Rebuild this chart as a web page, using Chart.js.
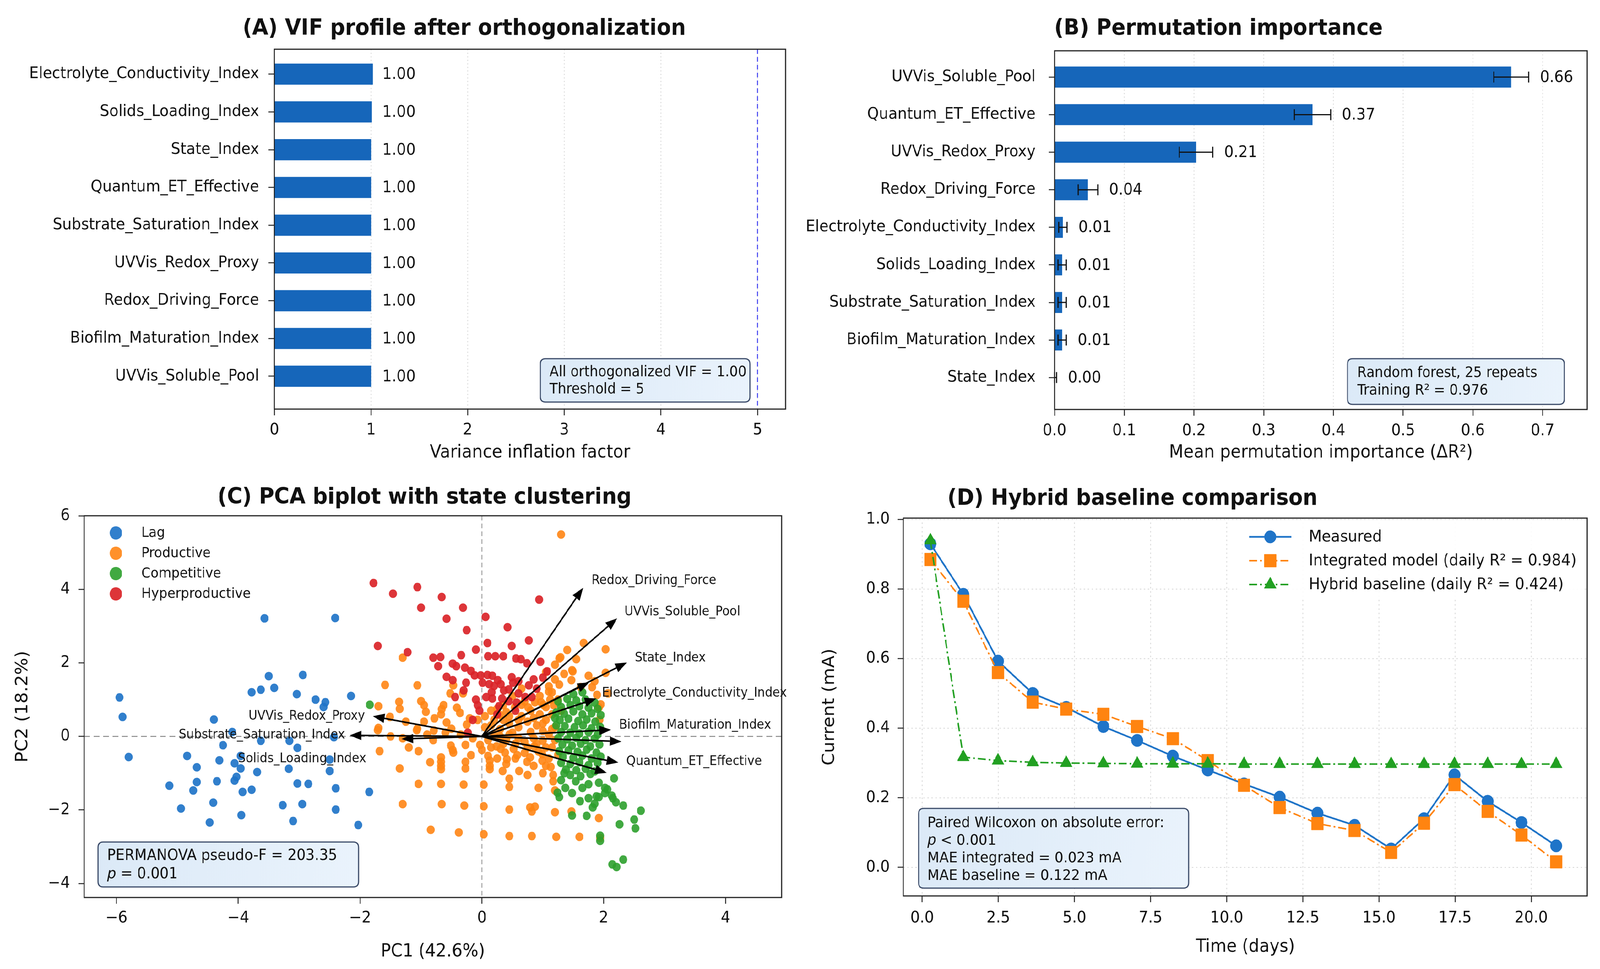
<!DOCTYPE html>
<html>
<head>
<meta charset="utf-8">
<script src="https://cdn.jsdelivr.net/npm/chart.js@4.4.1/dist/chart.umd.min.js"></script>
<style>
html,body{margin:0;padding:0;background:#ffffff;overflow:hidden;}
#stage{position:absolute;left:0;top:0;width:4391px;height:2480px;transform-origin:0 0;background:#ffffff;}
canvas{position:absolute;display:block;}
</style>
</head>
<body>
<div id="stage">
<canvas id="cA" style="left:0px;top:0px;width:2200px;height:1240px" width="2200" height="1240"></canvas>
<canvas id="cB" style="left:2200px;top:0px;width:2191px;height:1240px" width="2191" height="1240"></canvas>
<canvas id="cC" style="left:0px;top:1240px;width:2200px;height:1240px" width="2200" height="1240"></canvas>
<canvas id="cD" style="left:2200px;top:1240px;width:2191px;height:1240px" width="2191" height="1240"></canvas>
</div>
<script>
// ================= DATA =================
// (A) VIF profile
const vifFeatures = ['Electrolyte_Conductivity_Index','Solids_Loading_Index','State_Index','Quantum_ET_Effective','Substrate_Saturation_Index','UVVis_Redox_Proxy','Redox_Driving_Force','Biofilm_Maturation_Index','UVVis_Soluble_Pool'];
const vifValues = [1.02, 1.01, 1.00, 1.00, 1.00, 1.00, 1.00, 1.00, 1.00];
const vifText = ['1.00','1.00','1.00','1.00','1.00','1.00','1.00','1.00','1.00'];
const vifThreshold = 5;
const vifTicks = [0, 1, 2, 3, 4, 5];

// (B) Permutation importance
const permFeatures = ['UVVis_Soluble_Pool','Quantum_ET_Effective','UVVis_Redox_Proxy','Redox_Driving_Force','Electrolyte_Conductivity_Index','Solids_Loading_Index','Substrate_Saturation_Index','Biofilm_Maturation_Index','State_Index'];
const permMean = [0.655, 0.370, 0.203, 0.048, 0.012, 0.011, 0.011, 0.011, 0.001];
const permErr  = [0.025, 0.026, 0.024, 0.014, 0.006, 0.006, 0.006, 0.006, 0.002];
const permText = ['0.66','0.37','0.21','0.04','0.01','0.01','0.01','0.01','0.00'];
const permTicks = [0, 0.1, 0.2, 0.3, 0.4, 0.5, 0.6, 0.7];

// (C) PCA biplot
const stateNames = ['Lag','Productive','Competitive','Hyperproductive'];
const lagPts = [[-3.57,3.21],[-2.41,3.22],[-3.50,1.64],[-2.94,1.67],[-3.63,1.27],[-3.41,1.32],[-3.78,1.20],[-3.04,1.15],[-2.73,1.00],[-2.57,0.93],[-2.60,0.80],[-2.15,1.10],[-5.95,1.06],[-5.90,0.53],[-5.80,-0.56],[-4.40,0.46],[-4.25,-0.24],[-3.63,-0.12],[-3.16,-0.12],[-3.03,-0.31],[-2.43,-0.02],[-4.10,0.12],[-4.84,-0.53],[-4.31,-0.65],[-4.68,-0.84],[-4.06,-0.73],[-3.96,-0.87],[-3.96,-0.53],[-3.69,-0.97],[-3.17,-0.88],[-2.50,-0.94],[-2.50,-0.63],[-5.13,-1.34],[-4.68,-1.24],[-4.74,-1.47],[-4.35,-1.22],[-4.06,-1.20],[-4.03,-1.10],[-3.93,-1.51],[-3.78,-1.45],[-3.03,-1.28],[-2.85,-1.29],[-2.40,-1.41],[-1.85,-1.51],[-4.94,-1.96],[-4.41,-1.80],[-3.27,-1.87],[-2.95,-1.84],[-2.40,-1.99],[-3.95,-2.14],[-4.47,-2.34],[-3.10,-2.30],[-2.03,-2.41]];
const productivePts = [[-1.70,0.23],[-1.06,0.21],[-0.79,0.16],[-1.68,-0.40],[-1.04,-0.40],[-1.35,-0.87],[-0.67,-0.57],[-0.67,-0.69],[-0.67,-0.80],[-0.67,-0.89],[-0.51,-0.25],[-0.48,-0.37],[-0.47,-0.44],[-0.27,-0.23],[-0.27,-0.69],[-0.27,-0.87],[-0.18,-0.51],[-1.04,-1.29],[-0.67,-1.29],[-0.30,-1.31],[0.03,-1.31],[-1.30,-1.84],[-0.66,-1.84],[-0.29,-1.88],[0.03,-1.90],[0.45,-1.99],[0.79,-1.93],[0.87,-1.91],[0.82,-2.04],[1.20,-2.06],[1.47,-2.04],[-0.84,-2.54],[-0.38,-2.61],[0.03,-2.66],[0.45,-2.71],[0.82,-2.71],[1.22,-2.73],[1.60,-2.73],[1.94,-2.76],[1.92,-2.22],[0.10,-0.53],[0.13,-0.66],[0.13,-0.80],[0.13,-0.89],[0.34,-0.94],[0.61,-0.94],[0.41,-0.62],[0.45,-1.15],[0.45,-1.37],[0.75,-1.05],[0.93,-1.40],[0.74,-0.69],[0.79,-0.57],[0.99,-0.66],[1.05,-0.80],[1.17,-1.05],[1.17,-1.22],[1.20,-1.47],[1.13,-0.83],[0.24,-0.27],[0.31,-0.34],[0.38,-0.44],[0.52,-0.34],[0.58,-0.51],[-0.03,-0.23],[0.00,-0.37],[0.86,-0.27],[0.93,-0.41],[0.99,-0.48],
[-1.30,2.14],[-1.59,1.40],[-1.06,1.39],[-1.36,0.94],[-1.35,0.75],[-1.00,0.96],[-0.95,0.85],[-0.92,0.67],[-0.78,0.49],[-1.71,0.17],[-1.51,0.53],[-1.07,0.17],[-0.66,0.74],[-0.67,0.60],[-0.58,0.38],[-0.52,1.17],[-0.31,1.17],[-0.47,1.39],[-0.63,0.85],[-0.41,0.78],[-0.36,0.64],[-0.20,0.49],[-0.25,0.32],[-0.07,0.45],[-0.50,0.21],[1.27,2.12],[1.49,1.77],[1.67,2.54],[1.10,1.36],[1.10,1.22],[0.97,0.93],[1.18,0.85],[-1.70,0.82],[2.03,2.37],[2.03,1.73],[1.48,1.80],[1.30,5.49],[1.29,2.15],[1.27,1.41],[1.47,1.53],[1.62,1.34],[1.81,1.34],[1.89,1.13],[1.92,0.79],[1.93,0.45],[1.12,1.00],[1.01,0.86],[0.87,0.93],[0.76,0.79],[0.65,0.86],[0.54,0.79],[0.40,0.66],[0.29,0.59],
[0.15,0.30],[0.30,0.20],[0.45,0.35],[0.60,0.25],[0.75,0.40],[0.90,0.30],[1.05,0.45],[0.20,0.05],[0.50,0.10],[0.80,0.12],[1.00,0.15],[1.15,0.60],[1.20,0.25],[0.35,0.45],[0.65,0.55],[0.95,0.60],[0.10,-0.10],[0.40,-0.10],[0.70,-0.15],[1.00,-0.12],[1.15,-0.30],[1.25,-0.50],[0.55,-0.20],[0.85,-0.05],[1.10,0.05],[0.20,0.45],[1.25,1.00],[1.30,0.70],[1.05,0.80],[0.80,0.70],
[-1.30,-0.05],[-0.90,0.05],[-0.60,0.10],[-0.35,0.05],[-0.15,-0.05],[-1.50,0.00],[-0.80,-0.10],[2.07,1.17],[1.95,0.87],
[0.05,0.25],[0.25,0.75],[0.45,0.55],[0.60,0.45],[0.70,0.95],[0.85,0.50],[1.00,0.35],[1.15,0.20],[1.20,-0.10],[1.05,-0.30],[0.90,-0.20],[0.75,-0.30],[0.60,-0.05],[0.45,0.05],[0.30,0.00],[0.15,-0.30],[0.35,-0.20],[0.55,-0.60],[0.70,-0.45],[0.85,-0.80],[1.00,-1.00],[1.10,-0.60],[0.95,1.10],[1.15,1.20],[1.20,1.55],[1.35,1.70],[1.55,2.10],[1.40,2.35],[1.75,1.65],[1.85,1.50],[0.65,1.30],[0.50,1.10],[0.35,0.85],[0.15,0.70],[0.05,0.55],[1.05,1.75],[1.20,1.95],[0.40,-0.75],[0.25,-0.60],[-0.85,-0.70],[-1.20,-0.30],[-1.25,0.40],[-0.95,0.40]];
const competitivePts = [[2.17,-1.14],[2.06,-1.44],[1.92,-1.65],[2.15,-1.68],[2.32,-1.88],[2.61,-2.02],[2.50,-2.26],[2.52,-2.50],[2.26,-2.39],[1.94,-2.84],[2.14,-3.48],[2.21,-3.55],[2.32,-3.35],[1.72,-2.16],[1.48,-2.15],[1.61,-1.76],[1.27,-1.65],[1.24,-1.53],[1.37,-1.40],[1.48,-1.54],[1.65,-1.40],[1.75,-1.68],[1.85,-1.83],[1.88,-1.63],[2.02,-1.40],[2.13,-1.61],[2.20,-1.79],[1.92,-1.26],[1.75,-1.30],[1.54,-1.22],[1.30,-1.19],[1.82,-1.93],[2.02,-1.54],[1.94,-2.70],[-1.84,0.86],
[1.25,0.95],[1.40,1.02],[1.55,0.98],[1.70,1.00],[1.85,0.92],[1.30,0.80],[1.45,0.85],[1.60,0.82],[1.75,0.78],[1.90,0.75],[1.22,0.65],[1.35,0.62],[1.50,0.68],[1.65,0.60],[1.80,0.63],[1.95,0.58],[1.28,0.45],[1.42,0.48],[1.58,0.42],[1.72,0.46],[1.86,0.40],[1.22,0.30],[1.36,0.28],[1.52,0.25],[1.66,0.30],[1.80,0.22],[1.94,0.26],[1.30,0.12],[1.45,0.10],[1.60,0.08],[1.75,0.12],[1.90,0.05],[1.25,-0.05],[1.40,-0.08],[1.55,-0.04],[1.70,-0.10],[1.85,-0.06],[1.32,-0.22],[1.48,-0.25],[1.62,-0.20],[1.78,-0.27],[1.93,-0.22],[1.27,-0.40],[1.42,-0.38],[1.57,-0.42],[1.72,-0.36],[1.88,-0.44],[1.33,-0.55],[1.50,-0.58],[1.65,-0.52],[1.80,-0.60],[1.95,-0.55],[1.30,-0.72],[1.45,-0.75],[1.60,-0.70],[1.75,-0.78],[1.90,-0.72],[1.38,-0.90],[1.55,-0.92],[1.70,-0.88],[1.85,-0.95],[1.45,-1.05],[1.62,-1.08],[1.78,-1.02],[1.50,1.15],[1.65,1.20],[1.20,0.50],[1.35,-1.00]];
const hyperPts = [[-1.78,4.17],[-1.46,3.88],[-1.06,4.06],[-0.66,3.79],[-1.00,3.50],[-0.31,3.50],[-0.58,3.20],[0.06,3.25],[0.94,3.72],[-0.25,2.89],[0.42,2.97],[-1.71,2.46],[-1.22,2.29],[0.09,2.54],[0.49,2.46],[0.77,2.61],[-0.10,2.36],[-0.80,2.14],[-0.68,2.16],[-0.34,2.21],[0.10,2.18],[0.22,2.18],[0.35,2.18],[0.56,2.12],[0.64,2.10],[0.96,2.03],[0.74,1.99],[-0.72,1.91],[-0.48,1.98],[-0.42,1.91],[-0.28,1.87],[-0.18,1.78],[1.07,1.77],[-0.58,1.62],[-0.48,1.53],[-0.12,1.66],[-0.02,1.66],[0.09,1.67],[0.17,1.65],[0.26,1.53],[0.31,1.42],[0.49,1.61],[0.51,1.46],[0.01,1.46],[0.12,1.42],[0.20,1.37],[-0.26,1.46],[0.77,1.39],[0.44,1.28],[0.60,1.17],[0.71,1.07],[0.82,1.07],[-0.44,1.07],[0.07,1.07],[0.17,1.03],[-0.10,1.00],[-0.07,0.85],[0.33,1.03],[0.44,0.96],[-0.04,0.70],[-0.23,0.10],[0.57,0.92],[0.28,0.82],[0.36,1.25],[0.16,1.20],[-0.30,1.25],[0.60,1.50],[0.85,1.55],[0.25,0.60],[0.55,0.70],[-0.15,0.45],[0.90,1.30],[1.00,1.60]];
const loadX = [1.66, 2.22, 2.38, 1.76, 1.88, 2.12, 2.29, 2.24, 2.05, -1.79, -2.17, -1.32];
const loadY = [4.04, 3.21, 2.01, 1.47, 1.03, 0.18, -0.14, -0.71, -0.99, 0.55, 0.03, -0.07];
const loadLabelNames = ['Redox_Driving_Force','UVVis_Soluble_Pool','State_Index','Electrolyte_Conductivity_Index','Biofilm_Maturation_Index','Quantum_ET_Effective','UVVis_Redox_Proxy','Substrate_Saturation_Index','Solids_Loading_Index'];
const loadLabelX = [1.80, 2.34, 2.51, 1.97, 2.25, 2.37, -1.92, -2.25, -1.90];
const loadLabelY = [4.23, 3.38, 2.13, 1.17, 0.30, -0.69, 0.55, 0.04, -0.61];
const pcTicksX = [-6, -4, -2, 0, 2, 4];
const pcTicksY = [-4, -2, 0, 2, 4, 6];

// (D) Hybrid baseline comparison
const seriesNames = ['Measured', 'Integrated model (daily R\u00B2 = 0.984)', 'Hybrid baseline (daily R\u00B2 = 0.424)'];
const days = [0.27, 1.35, 2.49, 3.63, 4.73, 5.95, 7.06, 8.23, 9.38, 10.57, 11.74, 12.98, 14.20, 15.40, 16.48, 17.48, 18.57, 19.68, 20.82];
const measured   = [0.930, 0.785, 0.593, 0.500, 0.460, 0.405, 0.365, 0.320, 0.280, 0.240, 0.202, 0.156, 0.121, 0.053, 0.140, 0.266, 0.190, 0.129, 0.062];
const integrated = [0.885, 0.765, 0.560, 0.475, 0.455, 0.440, 0.405, 0.370, 0.307, 0.236, 0.172, 0.126, 0.106, 0.043, 0.127, 0.238, 0.161, 0.093, 0.016];
const hybrid     = [0.940, 0.317, 0.307, 0.302, 0.300, 0.299, 0.298, 0.298, 0.298, 0.297, 0.297, 0.297, 0.297, 0.297, 0.297, 0.297, 0.297, 0.297, 0.297];
const dayTicks = [0, 2.5, 5, 7.5, 10, 12.5, 15, 17.5, 20];
const currentTicks = [0, 0.2, 0.4, 0.6, 0.8, 1.0];

// ================= FIT PAGE TO VIEWPORT =================
(function () {
  const vw = window.innerWidth || document.documentElement.clientWidth || 4391;
  const vh = window.innerHeight || document.documentElement.clientHeight || 2480;
  document.getElementById('stage').style.transform = 'scale(' + (vw / 4391) + ',' + (vh / 2480) + ')';
})();

// ================= HELPERS =================
const FONT = 'DejaVu Sans';
const INK = '#111111';
Chart.defaults.font.family = FONT;
Chart.defaults.color = INK;

function setFont(ctx, size, weight, style) {
  ctx.font = (style || 'normal') + ' ' + (weight || 'normal') + ' ' + size + 'px "' + FONT + '"';
}
function panelTitle(ctx, text, x, y) {
  ctx.save();
  setFont(ctx, 57, 'bold');
  ctx.fillStyle = INK; ctx.textAlign = 'center'; ctx.textBaseline = 'middle';
  ctx.fillText(text, x, y);
  ctx.restore();
}
function drawFrame(chart) {
  const ctx = chart.ctx, a = chart.chartArea;
  ctx.save();
  ctx.strokeStyle = '#222222'; ctx.lineWidth = 3; ctx.setLineDash([]);
  ctx.strokeRect(a.left, a.top, a.right - a.left, a.bottom - a.top);
  ctx.restore();
}
function roundRectPath(ctx, x, y, w, h, r) {
  ctx.beginPath();
  ctx.moveTo(x + r, y); ctx.lineTo(x + w - r, y); ctx.quadraticCurveTo(x + w, y, x + w, y + r);
  ctx.lineTo(x + w, y + h - r); ctx.quadraticCurveTo(x + w, y + h, x + w - r, y + h);
  ctx.lineTo(x + r, y + h); ctx.quadraticCurveTo(x, y + h, x, y + h - r);
  ctx.lineTo(x, y + r); ctx.quadraticCurveTo(x, y, x + r, y);
  ctx.closePath();
}
function infoBox(ctx, x1, y1, x2, y2, lines, tx, ty0, lh, size) {
  ctx.save();
  const g = ctx.createLinearGradient(x1, y1, x2, y2);
  g.addColorStop(0, '#dbe9f7'); g.addColorStop(1, '#eaf3fc');
  roundRectPath(ctx, x1, y1, x2 - x1, y2 - y1, 14);
  ctx.fillStyle = g; ctx.fill();
  ctx.strokeStyle = '#3a4a68'; ctx.lineWidth = 3; ctx.stroke();
  ctx.fillStyle = INK; ctx.textAlign = 'left'; ctx.textBaseline = 'middle';
  lines.forEach((segs, k) => {
    let x = tx; const y = ty0 + k * lh;
    segs.forEach(s => {
      setFont(ctx, size, 'normal', s.i ? 'italic' : 'normal');
      ctx.fillText(s.t, x, y);
      x += ctx.measureText(s.t).width;
    });
  });
  ctx.restore();
}
function gridV(chart, values, color, dash) {
  const ctx = chart.ctx, a = chart.chartArea, xs = chart.scales.x;
  ctx.save(); ctx.strokeStyle = color; ctx.lineWidth = 2; ctx.setLineDash(dash);
  values.forEach(v => { const p = xs.getPixelForValue(v); ctx.beginPath(); ctx.moveTo(p, a.top); ctx.lineTo(p, a.bottom); ctx.stroke(); });
  ctx.restore();
}
function gridH(chart, values, color, dash) {
  const ctx = chart.ctx, a = chart.chartArea, ys = chart.scales.y;
  ctx.save(); ctx.strokeStyle = color; ctx.lineWidth = 2; ctx.setLineDash(dash);
  values.forEach(v => { const p = ys.getPixelForValue(v); ctx.beginPath(); ctx.moveTo(a.left, p); ctx.lineTo(a.right, p); ctx.stroke(); });
  ctx.restore();
}
function tickGrid() {
  return { display: true, drawOnChartArea: false, drawTicks: true, tickLength: 16, tickWidth: 2.5, tickColor: '#222222', offset: false };
}
function tickFont() { return { family: FONT, size: 41, lineHeight: 1.2 }; }
function titleOpt(text) { return { display: true, text: text, color: INK, padding: 0, font: { family: FONT, size: 46, lineHeight: 1.2 } }; }
function setTicks(values) { return s => { s.ticks = values.map(v => ({ value: v })); }; }
function minusFmt(v) { return v < 0 ? '\u2212' + Math.abs(v) : String(v); }
const baseOpts = { responsive: false, animation: false, devicePixelRatio: 1, events: [] };
const noPlugins = { legend: { display: false }, tooltip: { enabled: false }, title: { display: false } };

// ================= (A) =================
const pluginA = {
  id: 'decorA',
  beforeDatasetsDraw(chart) { gridV(chart, vifTicks.slice(1), '#d4d4d4', [3, 6]); },
  afterDatasetsDraw(chart) {
    const ctx = chart.ctx, a = chart.chartArea, xs = chart.scales.x, ys = chart.scales.y;
    ctx.save();
    ctx.strokeStyle = '#3c3cf0'; ctx.lineWidth = 2.5; ctx.setLineDash([12, 8]);
    const tx = xs.getPixelForValue(vifThreshold);
    ctx.beginPath(); ctx.moveTo(tx, a.top); ctx.lineTo(tx, a.bottom); ctx.stroke();
    ctx.setLineDash([]);
    setFont(ctx, 41); ctx.fillStyle = INK; ctx.textAlign = 'left'; ctx.textBaseline = 'middle';
    vifText.forEach((t, i) => {
      ctx.fillText(t, xs.getPixelForValue(parseFloat(t)) + 31, ys.getPixelForValue(i) + 2);
    });
    ctx.restore();
  },
  afterDraw(chart) {
    drawFrame(chart);
    panelTitle(chart.ctx, '(A) VIF profile after orthogonalization', 1274, 74);
    infoBox(chart.ctx, 1483, 918, 2058, 1029, [[{ t: 'All orthogonalized VIF = 1.00' }], [{ t: 'Threshold = ' + vifThreshold }]], 1508, 953, 44, 37);
  }
};
new Chart(document.getElementById('cA'), {
  type: 'bar',
  data: { datasets: [{ label: 'VIF', data: vifValues.map((v, i) => ({ x: v, y: i })), backgroundColor: '#1666ba', borderWidth: 0, barPercentage: 0.56, categoryPercentage: 1 }] },
  options: Object.assign({}, baseOpts, {
    indexAxis: 'y',
    layout: { padding: { left: 0, top: 126, right: 44, bottom: 53 } },
    plugins: noPlugins,
    scales: {
      x: { type: 'linear', position: 'bottom', min: 0, max: 5.29, afterBuildTicks: setTicks(vifTicks), afterFit: s => { s.height = 140; },
           border: { display: false }, grid: tickGrid(), ticks: { font: tickFont(), color: INK, padding: 14, maxRotation: 0, autoSkip: false, callback: v => String(v) },
           title: titleOpt('Variance inflation factor') },
      y: { type: 'linear', position: 'left', min: -0.66, max: 8.87, reverse: true, offset: false, afterBuildTicks: setTicks(vifFeatures.map((f, i) => i)), afterFit: s => { s.width = 753; },
           border: { display: false }, grid: tickGrid(), ticks: { font: tickFont(), color: INK, padding: 26, autoSkip: false, callback: v => vifFeatures[v] } }
    }
  }),
  plugins: [pluginA]
});

// ================= (B) =================
const pluginB = {
  id: 'decorB',
  beforeDatasetsDraw(chart) { gridV(chart, permTicks.slice(1), '#d4d4d4', [3, 6]); },
  afterDatasetsDraw(chart) {
    const ctx = chart.ctx, xs = chart.scales.x, ys = chart.scales.y;
    ctx.save();
    ctx.strokeStyle = '#111111'; ctx.lineWidth = 3;
    permMean.forEach((m, i) => {
      const y = ys.getPixelForValue(i);
      const x1 = xs.getPixelForValue(Math.max(0, m - permErr[i])), x2 = xs.getPixelForValue(m + permErr[i]);
      ctx.beginPath(); ctx.moveTo(x1, y); ctx.lineTo(x2, y);
      ctx.moveTo(x1, y - 14); ctx.lineTo(x1, y + 14); ctx.moveTo(x2, y - 14); ctx.lineTo(x2, y + 14); ctx.stroke();
      setFont(ctx, 41); ctx.fillStyle = INK; ctx.textAlign = 'left'; ctx.textBaseline = 'middle';
      ctx.fillText(permText[i], x2 + 31, y + 2);
    });
    ctx.restore();
  },
  afterDraw(chart) {
    drawFrame(chart);
    panelTitle(chart.ctx, '(B) Permutation importance', 1144, 74);
    infoBox(chart.ctx, 1498, 918, 2093, 1035, [[{ t: 'Random forest, 25 repeats' }], [{ t: 'Training R\u00B2 = 0.976' }]], 1525, 955, 45, 37);
  }
};
new Chart(document.getElementById('cB'), {
  type: 'bar',
  data: { datasets: [{ label: 'Mean permutation importance', data: permMean.map((v, i) => ({ x: v, y: i })), backgroundColor: '#1666ba', borderWidth: 0, barPercentage: 0.56, categoryPercentage: 1 }] },
  options: Object.assign({}, baseOpts, {
    indexAxis: 'y',
    layout: { padding: { left: 0, top: 130, right: 35, bottom: 53 } },
    plugins: noPlugins,
    scales: {
      x: { type: 'linear', position: 'bottom', min: 0, max: 0.764, afterBuildTicks: setTicks(permTicks), afterFit: s => { s.height = 139; },
           border: { display: false }, grid: tickGrid(), ticks: { font: tickFont(), color: INK, padding: 15, maxRotation: 0, autoSkip: false, callback: v => v.toFixed(1) },
           title: titleOpt('Mean permutation importance (\u0394R\u00B2)') },
      y: { type: 'linear', position: 'left', min: -0.70, max: 8.85, reverse: true, offset: false, afterBuildTicks: setTicks(permFeatures.map((f, i) => i)), afterFit: s => { s.width = 694; },
           border: { display: false }, grid: tickGrid(), ticks: { font: tickFont(), color: INK, padding: 36, autoSkip: false, callback: v => permFeatures[v] } }
    }
  }),
  plugins: [pluginB]
});

// ================= (C) =================
const stateColors = ['rgba(31,116,200,0.92)', 'rgba(255,133,20,0.9)', 'rgba(44,160,44,0.9)', 'rgba(218,36,40,0.92)'];
const pluginC = {
  id: 'decorC',
  beforeDatasetsDraw(chart) {
    const ctx = chart.ctx, a = chart.chartArea, xs = chart.scales.x, ys = chart.scales.y;
    ctx.save(); ctx.strokeStyle = '#8a8a8a'; ctx.lineWidth = 2.5; ctx.setLineDash([16, 10]);
    const y0 = ys.getPixelForValue(0), x0 = xs.getPixelForValue(0);
    ctx.beginPath(); ctx.moveTo(a.left, y0); ctx.lineTo(a.right, y0); ctx.stroke();
    ctx.lineWidth = 2; ctx.setLineDash([12, 8]);
    ctx.beginPath(); ctx.moveTo(x0, a.top); ctx.lineTo(x0, a.bottom); ctx.stroke();
    ctx.restore();
  },
  afterDatasetsDraw(chart) {
    const ctx = chart.ctx, xs = chart.scales.x, ys = chart.scales.y;
    const ox = xs.getPixelForValue(0), oy = ys.getPixelForValue(0);
    ctx.save();
    ctx.strokeStyle = '#000000'; ctx.fillStyle = '#000000'; ctx.lineWidth = 4;
    loadX.forEach((lx, i) => {
      const tx = xs.getPixelForValue(lx), ty = ys.getPixelForValue(loadY[i]);
      const ang = Math.atan2(ty - oy, tx - ox), hl = 32, hw = 12;
      const bx = tx - hl * Math.cos(ang), by = ty - hl * Math.sin(ang);
      ctx.beginPath(); ctx.moveTo(ox, oy); ctx.lineTo(bx, by); ctx.stroke();
      ctx.beginPath(); ctx.moveTo(tx, ty);
      ctx.lineTo(bx + hw * Math.sin(ang), by - hw * Math.cos(ang));
      ctx.lineTo(bx - hw * Math.sin(ang), by + hw * Math.cos(ang));
      ctx.closePath(); ctx.fill();
    });
    setFont(ctx, 33); ctx.fillStyle = '#151515'; ctx.textBaseline = 'middle';
    loadLabelNames.forEach((n, i) => {
      ctx.textAlign = loadLabelX[i] < 0 ? 'right' : 'left';
      ctx.fillText(n, xs.getPixelForValue(loadLabelX[i]), ys.getPixelForValue(loadLabelY[i]));
    });
    ctx.restore();
  },
  afterDraw(chart) {
    const ctx = chart.ctx;
    drawFrame(chart);
    panelTitle(ctx, '(C) PCA biplot with state clustering', 1165, 34);
    ctx.save();
    chart.data.datasets.forEach((ds, k) => {
      const y = 124 + k * 52;
      ctx.fillStyle = ds.backgroundColor;
      ctx.beginPath(); ctx.arc(318, y, 17, 0, Math.PI * 2); ctx.fill();
      setFont(ctx, 36); ctx.fillStyle = INK; ctx.textAlign = 'left'; ctx.textBaseline = 'middle';
      ctx.fillText(ds.label, 388, y + 1);
    });
    ctx.restore();
    infoBox(ctx, 269, 915, 984, 1030, [[{ t: 'PERMANOVA pseudo-F = 203.35' }], [{ t: 'p', i: true }, { t: ' = 0.001' }]], 294, 951, 47, 39);
  }
};
const cSets = [lagPts, productivePts, competitivePts, hyperPts];
new Chart(document.getElementById('cC'), {
  type: 'scatter',
  data: { datasets: cSets.map((pts, k) => ({
    label: stateNames[k], data: pts.map(p => ({ x: p[0], y: p[1] })),
    backgroundColor: stateColors[k], borderColor: stateColors[k], pointRadius: 11, pointBorderWidth: 0, order: 4 - k
  })) },
  options: Object.assign({}, baseOpts, {
    layout: { padding: { left: 35, top: 80, right: 55, bottom: 16 } },
    plugins: noPlugins,
    scales: {
      x: { type: 'linear', position: 'bottom', min: -6.53, max: 4.92, afterBuildTicks: setTicks(pcTicksX), afterFit: s => { s.height = 167; },
           border: { display: false }, grid: tickGrid(), ticks: { font: tickFont(), color: INK, padding: 13, maxRotation: 0, autoSkip: false, callback: minusFmt },
           title: titleOpt('PC1 (42.6%)') },
      y: { type: 'linear', position: 'left', min: -4.38, max: 6.0, afterBuildTicks: setTicks(pcTicksY), afterFit: s => { s.width = 196; },
           border: { display: false }, grid: tickGrid(), ticks: { font: tickFont(), color: INK, padding: 23, autoSkip: false, callback: minusFmt },
           title: titleOpt('PC2 (18.2%)') }
    }
  }),
  plugins: [pluginC]
});

// ================= (D) =================
const pluginD = {
  id: 'decorD',
  beforeDatasetsDraw(chart) {
    gridV(chart, dayTicks, '#d6d6d6', [4, 7]);
    gridH(chart, currentTicks, '#d6d6d6', [4, 7]);
  },
  afterDraw(chart) {
    const ctx = chart.ctx;
    drawFrame(chart);
    panelTitle(ctx, '(D) Hybrid baseline comparison', 908, 37);
    ctx.save();
    ctx.fillStyle = 'rgba(255,255,255,0.9)';
    ctx.fillRect(1195, 96, 950, 198);
    chart.data.datasets.forEach((ds, k) => {
      const y = 134 + k * 61;
      ctx.strokeStyle = ds.borderColor; ctx.lineWidth = ds.borderWidth; ctx.setLineDash(ds.borderDash || []);
      ctx.beginPath(); ctx.moveTo(1228, y); ctx.lineTo(1344, y); ctx.stroke();
      ctx.setLineDash([]);
      ctx.fillStyle = ds.pointBackgroundColor; ctx.strokeStyle = ds.pointBackgroundColor; ctx.lineWidth = 1;
      Chart.helpers.drawPoint(ctx, { pointStyle: ds.pointStyle, radius: ds.pointRadius, rotation: 0, borderWidth: 1 }, 1286, y);
      setFont(ctx, 41); ctx.fillStyle = INK; ctx.textAlign = 'left'; ctx.textBaseline = 'middle';
      ctx.fillText(ds.label, 1392, y + 1);
    });
    ctx.restore();
    infoBox(ctx, 321, 829, 1062, 1033, [[{ t: 'Paired Wilcoxon on absolute error:' }], [{ t: 'p', i: true }, { t: ' < 0.001' }], [{ t: 'MAE integrated = 0.023 mA' }], [{ t: 'MAE baseline = 0.122 mA' }]], 345, 867, 45, 38);
  }
};
const dColors = ['#1f74c8', '#ff8410', '#22a022'];
const dSeries = [measured, integrated, hybrid];
const dStyle = [
  { pointStyle: 'circle', pointRadius: 16, borderWidth: 4.5, borderDash: [] },
  { pointStyle: 'rect', pointRadius: 23, borderWidth: 4, borderDash: [22, 8, 5, 8] },
  { pointStyle: 'triangle', pointRadius: 19, borderWidth: 4, borderDash: [22, 8, 5, 8] }
];
new Chart(document.getElementById('cD'), {
  type: 'line',
  data: { datasets: dSeries.map((vals, k) => ({
    label: seriesNames[k], data: vals.map((v, i) => ({ x: days[i], y: v })),
    borderColor: dColors[k], backgroundColor: dColors[k], pointBackgroundColor: dColors[k], pointBorderColor: dColors[k],
    pointBorderWidth: 1, borderWidth: dStyle[k].borderWidth, borderDash: dStyle[k].borderDash,
    pointStyle: dStyle[k].pointStyle, pointRadius: dStyle[k].pointRadius, tension: 0, fill: false, order: 3 - k
  })) },
  options: Object.assign({}, baseOpts, {
    layout: { padding: { left: 49, top: 86, right: 35, bottom: 28 } },
    plugins: noPlugins,
    scales: {
      x: { type: 'linear', position: 'bottom', min: -0.62, max: 21.84, afterBuildTicks: setTicks(dayTicks), afterFit: s => { s.height = 159; },
           border: { display: false }, grid: tickGrid(), ticks: { font: tickFont(), color: INK, padding: 17, maxRotation: 0, autoSkip: false, callback: v => v.toFixed(1) },
           title: titleOpt('Time (days)') },
      y: { type: 'linear', position: 'left', min: -0.082, max: 1.004, afterBuildTicks: setTicks(currentTicks), afterFit: s => { s.width = 230; },
           border: { display: false }, grid: tickGrid(), ticks: { font: tickFont(), color: INK, padding: 21, autoSkip: false, callback: v => v.toFixed(1) },
           title: titleOpt('Current (mA)') }
    }
  }),
  plugins: [pluginD]
});
</script>
</body>
</html>
